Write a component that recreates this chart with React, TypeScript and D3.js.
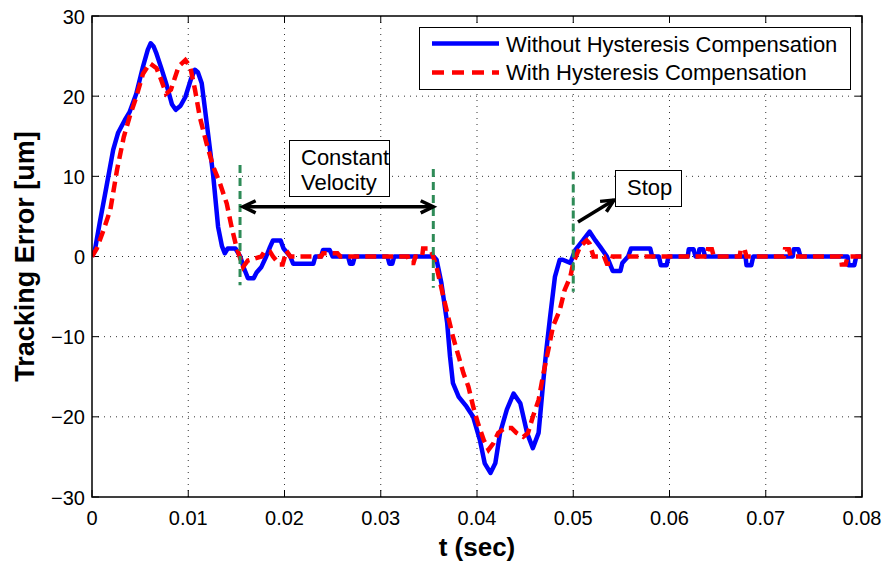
import React from "react";
import * as d3 from "d3";

const withoutT = [0,0.0003,0.0008,0.0015,0.0022,0.0027,0.0034,0.0039,0.0046,0.0053,0.0058,0.0061,0.0064,0.0067,0.0072,0.0078,0.0083,0.0087,0.0092,0.0097,0.0103,0.0107,0.011,0.0114,0.0121,0.0126,0.0131,0.0135,0.0138,0.0141,0.0149,0.0154,0.0158,0.0162,0.0168,0.0171,0.0176,0.0181,0.0185,0.0188,0.0196,0.0199,0.0206,0.0209,0.023,0.0232,0.0238,0.024,0.0247,0.025,0.0266,0.0268,0.0271,0.0273,0.0307,0.0309,0.0312,0.0314,0.0355,0.0358,0.0363,0.0369,0.0372,0.0375,0.0381,0.0389,0.0396,0.0403,0.0408,0.0414,0.0419,0.0424,0.0431,0.0438,0.0445,0.0452,0.0458,0.0464,0.0469,0.0472,0.0476,0.0481,0.0486,0.0489,0.0497,0.0502,0.051,0.0517,0.0523,0.0528,0.0535,0.0541,0.0549,0.0551,0.0554,0.0557,0.056,0.058,0.0582,0.0589,0.0591,0.0597,0.0599,0.0619,0.062,0.0625,0.0627,0.063,0.0631,0.0635,0.0637,0.0679,0.068,0.0685,0.0687,0.0728,0.0729,0.0734,0.0736,0.0785,0.0786,0.0792,0.0794,0.08];
const withoutE = [0,0.8,4.2,8.7,13.3,15.4,17,18,20.3,23.7,25.8,26.6,26.2,25.3,23.5,21.2,19,18.3,18.8,19.9,22.2,23.3,23,21.6,14.9,10,3.7,1.3,0.4,1,1,0,-1.5,-2.7,-2.7,-2,-1.3,0,1.2,2,2,1,0,-0.9,-0.9,0,0,0.8,0.8,0,0,-0.9,-0.9,0,0,-0.9,-0.9,0,0,-0.4,-3.3,-8.3,-12.5,-15.8,-17.5,-18.7,-20,-22.9,-25.8,-27,-25.8,-22,-19.1,-17.1,-18.3,-22,-23.9,-22,-15.4,-11.7,-7.5,-2.5,-0.4,-0.4,-0.8,0.8,2,3.1,2,1.2,0,-1.8,-1.8,-0.8,-0.4,0,1,1,0,0,-1.1,-1.1,0,0,0.9,0.9,0,0,0.9,0.9,0,0,-1.1,-1.1,0,0,0.9,0.9,0,0,-1.1,-1.1,0,0];

const withT = [0,0.0005,0.0012,0.0019,0.0026,0.0033,0.0039,0.0046,0.0053,0.006,0.0067,0.0072,0.0077,0.0082,0.009,0.0097,0.0102,0.0107,0.0112,0.0119,0.0126,0.0133,0.014,0.0145,0.015,0.0157,0.0162,0.0168,0.0176,0.0179,0.0185,0.0188,0.0195,0.0198,0.0202,0.0206,0.0238,0.024,0.0255,0.0258,0.0328,0.033,0.0334,0.0336,0.0343,0.0344,0.0351,0.0353,0.0358,0.0365,0.037,0.0375,0.0381,0.0386,0.0391,0.0396,0.0401,0.0407,0.0412,0.0417,0.0422,0.0429,0.0436,0.0441,0.0448,0.0453,0.0458,0.0464,0.0469,0.0474,0.0479,0.0486,0.0491,0.0497,0.05,0.0507,0.0514,0.0517,0.0521,0.0532,0.0535,0.0539,0.0541,0.0639,0.064,0.0644,0.0646,0.0673,0.0674,0.0678,0.068,0.0719,0.072,0.0724,0.0726,0.0778,0.0779,0.0783,0.0785,0.08];
const withE = [0,1,3.3,5.8,10.8,14.9,17.4,19.9,22.8,24.1,23.5,22,20.3,20.8,23.7,24.5,23.7,20.8,17.4,14.1,11.2,9.1,6.6,3.7,1.2,-1.3,-0.5,-0.3,0,0.6,0.6,0,-1,-1,0.7,0,0,0.4,0.4,0,0,-0.8,-0.8,0,0,1,1,0.5,-1.3,-5,-7.5,-10,-12.5,-14.6,-16.2,-18.7,-20.8,-22.9,-24.1,-23.3,-22,-21.4,-21.4,-22,-22.5,-22,-20,-17.9,-14.6,-11.7,-8.7,-6.7,-4.2,-2.5,-0.8,1.2,2,1.6,0,0,-0.9,-0.9,0,0,0.9,0.9,0,0,0.9,0.9,0,0,0.9,0.9,0,0,-1,-1,0,0];

const xTicks = [0, 0.01, 0.02, 0.03, 0.04, 0.05, 0.06, 0.07, 0.08];
const xTickLabels = ["0", "0.01", "0.02", "0.03", "0.04", "0.05", "0.06", "0.07", "0.08"];
const yTicks = [-30, -20, -10, 0, 10, 20, 30];
const yTickLabels = ["\u221230", "\u221220", "\u221210", "0", "10", "20", "30"];
const seriesNames = ["Without Hysteresis Compensation", "With Hysteresis Compensation"];
const markerTimes = [0.01538, 0.03546, 0.05];
const markerTop = [11.4, 10.9, 10.6];
const markerBottom = [-3.6, -3.9, -4.4];

const W = 886, H = 562;
const m = { left: 92, right: 24, top: 16, bottom: 65 };
const FONT = "'Liberation Sans', Arial, Helvetica, sans-serif";

export default function App() {
  const x = d3.scaleLinear().domain([0, 0.08]).range([m.left, W - m.right]);
  const y = d3.scaleLinear().domain([-30, 30]).range([H - m.bottom, m.top]);
  const line = d3.line<[number, number]>().x(d => x(d[0])).y(d => y(d[1]));
  const blue = line(withoutT.map((t, i) => [t, withoutE[i]]))!;
  const red = line(withT.map((t, i) => [t, withE[i]]))!;
  const x0 = m.left, x1 = W - m.right, y0 = m.top, y1 = H - m.bottom;

  const arrowHead = (tx: number, ty: number, ang: number, len = 14, spread = 0.45) => {
    const a1 = ang + Math.PI - spread, a2 = ang + Math.PI + spread;
    return `M${tx + len * Math.cos(a1)},${ty + len * Math.sin(a1)}L${tx},${ty}L${tx + len * Math.cos(a2)},${ty + len * Math.sin(a2)}`;
  };

  const cvY = y(6.2);
  const cvL = x(markerTimes[0]) + 3, cvR = x(markerTimes[1]);
  const stopFrom: [number, number] = [578, 222];
  const stopTo: [number, number] = [614, 200];
  const stopAng = Math.atan2(stopTo[1] - stopFrom[1], stopTo[0] - stopFrom[0]);

  return (
    <svg width={W} height={H} style={{ position: "absolute", left: 0, top: 0, background: "#fff" }} fontFamily={FONT}>
      <rect x={0} y={0} width={W} height={H} fill="#fff" />
      <defs>
        <clipPath id="plotclip"><rect x={x0} y={y0} width={x1 - x0} height={y1 - y0} /></clipPath>
        <clipPath id="cvclip"><rect x={289.5} y={140.5} width={100} height={56} /></clipPath>
      </defs>
      {/* grid */}
      {xTicks.slice(1, -1).map(t => (
        <line key={"gx" + t} x1={x(t)} x2={x(t)} y1={y0} y2={y1} stroke="#333" strokeWidth={1} strokeDasharray="1,5" />
      ))}
      {yTicks.slice(1, -1).map(v => (
        <line key={"gy" + v} x1={x0} x2={x1} y1={y(v)} y2={y(v)} stroke="#333" strokeWidth={1} strokeDasharray="1,5" />
      ))}
      {/* ticks */}
      {xTicks.map(t => (
        <g key={"tx" + t}>
          <line x1={x(t)} x2={x(t)} y1={y1} y2={y1 - 7} stroke="#000" />
          <line x1={x(t)} x2={x(t)} y1={y0} y2={y0 + 7} stroke="#000" />
        </g>
      ))}
      {yTicks.map(v => (
        <g key={"ty" + v}>
          <line x1={x0} x2={x0 + 7} y1={y(v)} y2={y(v)} stroke="#000" />
          <line x1={x1} x2={x1 - 7} y1={y(v)} y2={y(v)} stroke="#000" />
        </g>
      ))}
      {/* data */}
      <g clipPath="url(#plotclip)">
        <path d={blue} fill="none" stroke="#0000ff" strokeWidth={4.5} strokeLinejoin="round" />
        <path d={red} fill="none" stroke="#ff0000" strokeWidth={4.5} strokeDasharray="11,6" />
      </g>
      {/* green markers */}
      {markerTimes.map((t, i) => (
        <line key={"mk" + i} x1={x(t)} x2={x(t)} y1={y(markerTop[i])} y2={y(markerBottom[i])} stroke="#2e8b57" strokeWidth={3} strokeDasharray="8,5" />
      ))}
      {/* constant velocity arrow */}
      <line x1={cvL} x2={cvR} y1={cvY} y2={cvY} stroke="#000" strokeWidth={3.5} />
      <path d={arrowHead(cvL, cvY, Math.PI)} fill="none" stroke="#000" strokeWidth={3.5} />
      <path d={arrowHead(cvR, cvY, 0)} fill="none" stroke="#000" strokeWidth={3.5} />
      <rect x={289.5} y={140.5} width={100} height={56} fill="#fff" stroke="#000" strokeWidth={1} />
      <g clipPath="url(#cvclip)">
        <text x={301} y={165} fontSize={22} fill="#000">Constant</text>
        <text x={301} y={190} fontSize={22} fill="#000">Velocity</text>
      </g>
      {/* stop arrow */}
      <line x1={stopFrom[0]} y1={stopFrom[1]} x2={stopTo[0]} y2={stopTo[1]} stroke="#000" strokeWidth={3.5} />
      <path d={arrowHead(stopTo[0], stopTo[1], stopAng)} fill="none" stroke="#000" strokeWidth={3.5} />
      <rect x={615.5} y={170.5} width={66} height={36} fill="#fff" stroke="#000" strokeWidth={1} />
      <text x={627} y={195} fontSize={22} fill="#000">Stop</text>
      {/* axes box */}
      <rect x={x0} y={y0} width={x1 - x0} height={y1 - y0} fill="none" stroke="#000" strokeWidth={1.5} />
      {/* tick labels */}
      {xTicks.map((t, i) => (
        <text key={"xl" + t} x={x(t)} y={525} fontSize={20} textAnchor="middle" fill="#000">{xTickLabels[i]}</text>
      ))}
      {yTicks.map((v, i) => (
        <text key={"yl" + v} x={85} y={y(v) + 7.5} fontSize={20} textAnchor="end" fill="#000">{yTickLabels[i]}</text>
      ))}
      {/* axis labels */}
      <text x={(x0 + x1) / 2} y={556} fontSize={26} fontWeight="bold" textAnchor="middle" fill="#000">t (sec)</text>
      <text transform={`translate(34,${(y0 + y1) / 2}) rotate(-90)`} fontSize={27} fontWeight="bold" textAnchor="middle" fill="#000">Tracking Error [um]</text>
      {/* legend */}
      <rect x={419.5} y={27.5} width={431} height={62} fill="#fff" stroke="#000" strokeWidth={1} />
      <line x1={432} x2={499} y1={43.5} y2={43.5} stroke="#0000ff" strokeWidth={4.5} />
      <line x1={432} x2={499} y1={72.5} y2={72.5} stroke="#ff0000" strokeWidth={4.5} strokeDasharray="12,8" />
      <text x={506} y={51.5} fontSize={22} fill="#000">{seriesNames[0]}</text>
      <text x={506} y={80} fontSize={22} fill="#000">{seriesNames[1]}</text>
    </svg>
  );
}
